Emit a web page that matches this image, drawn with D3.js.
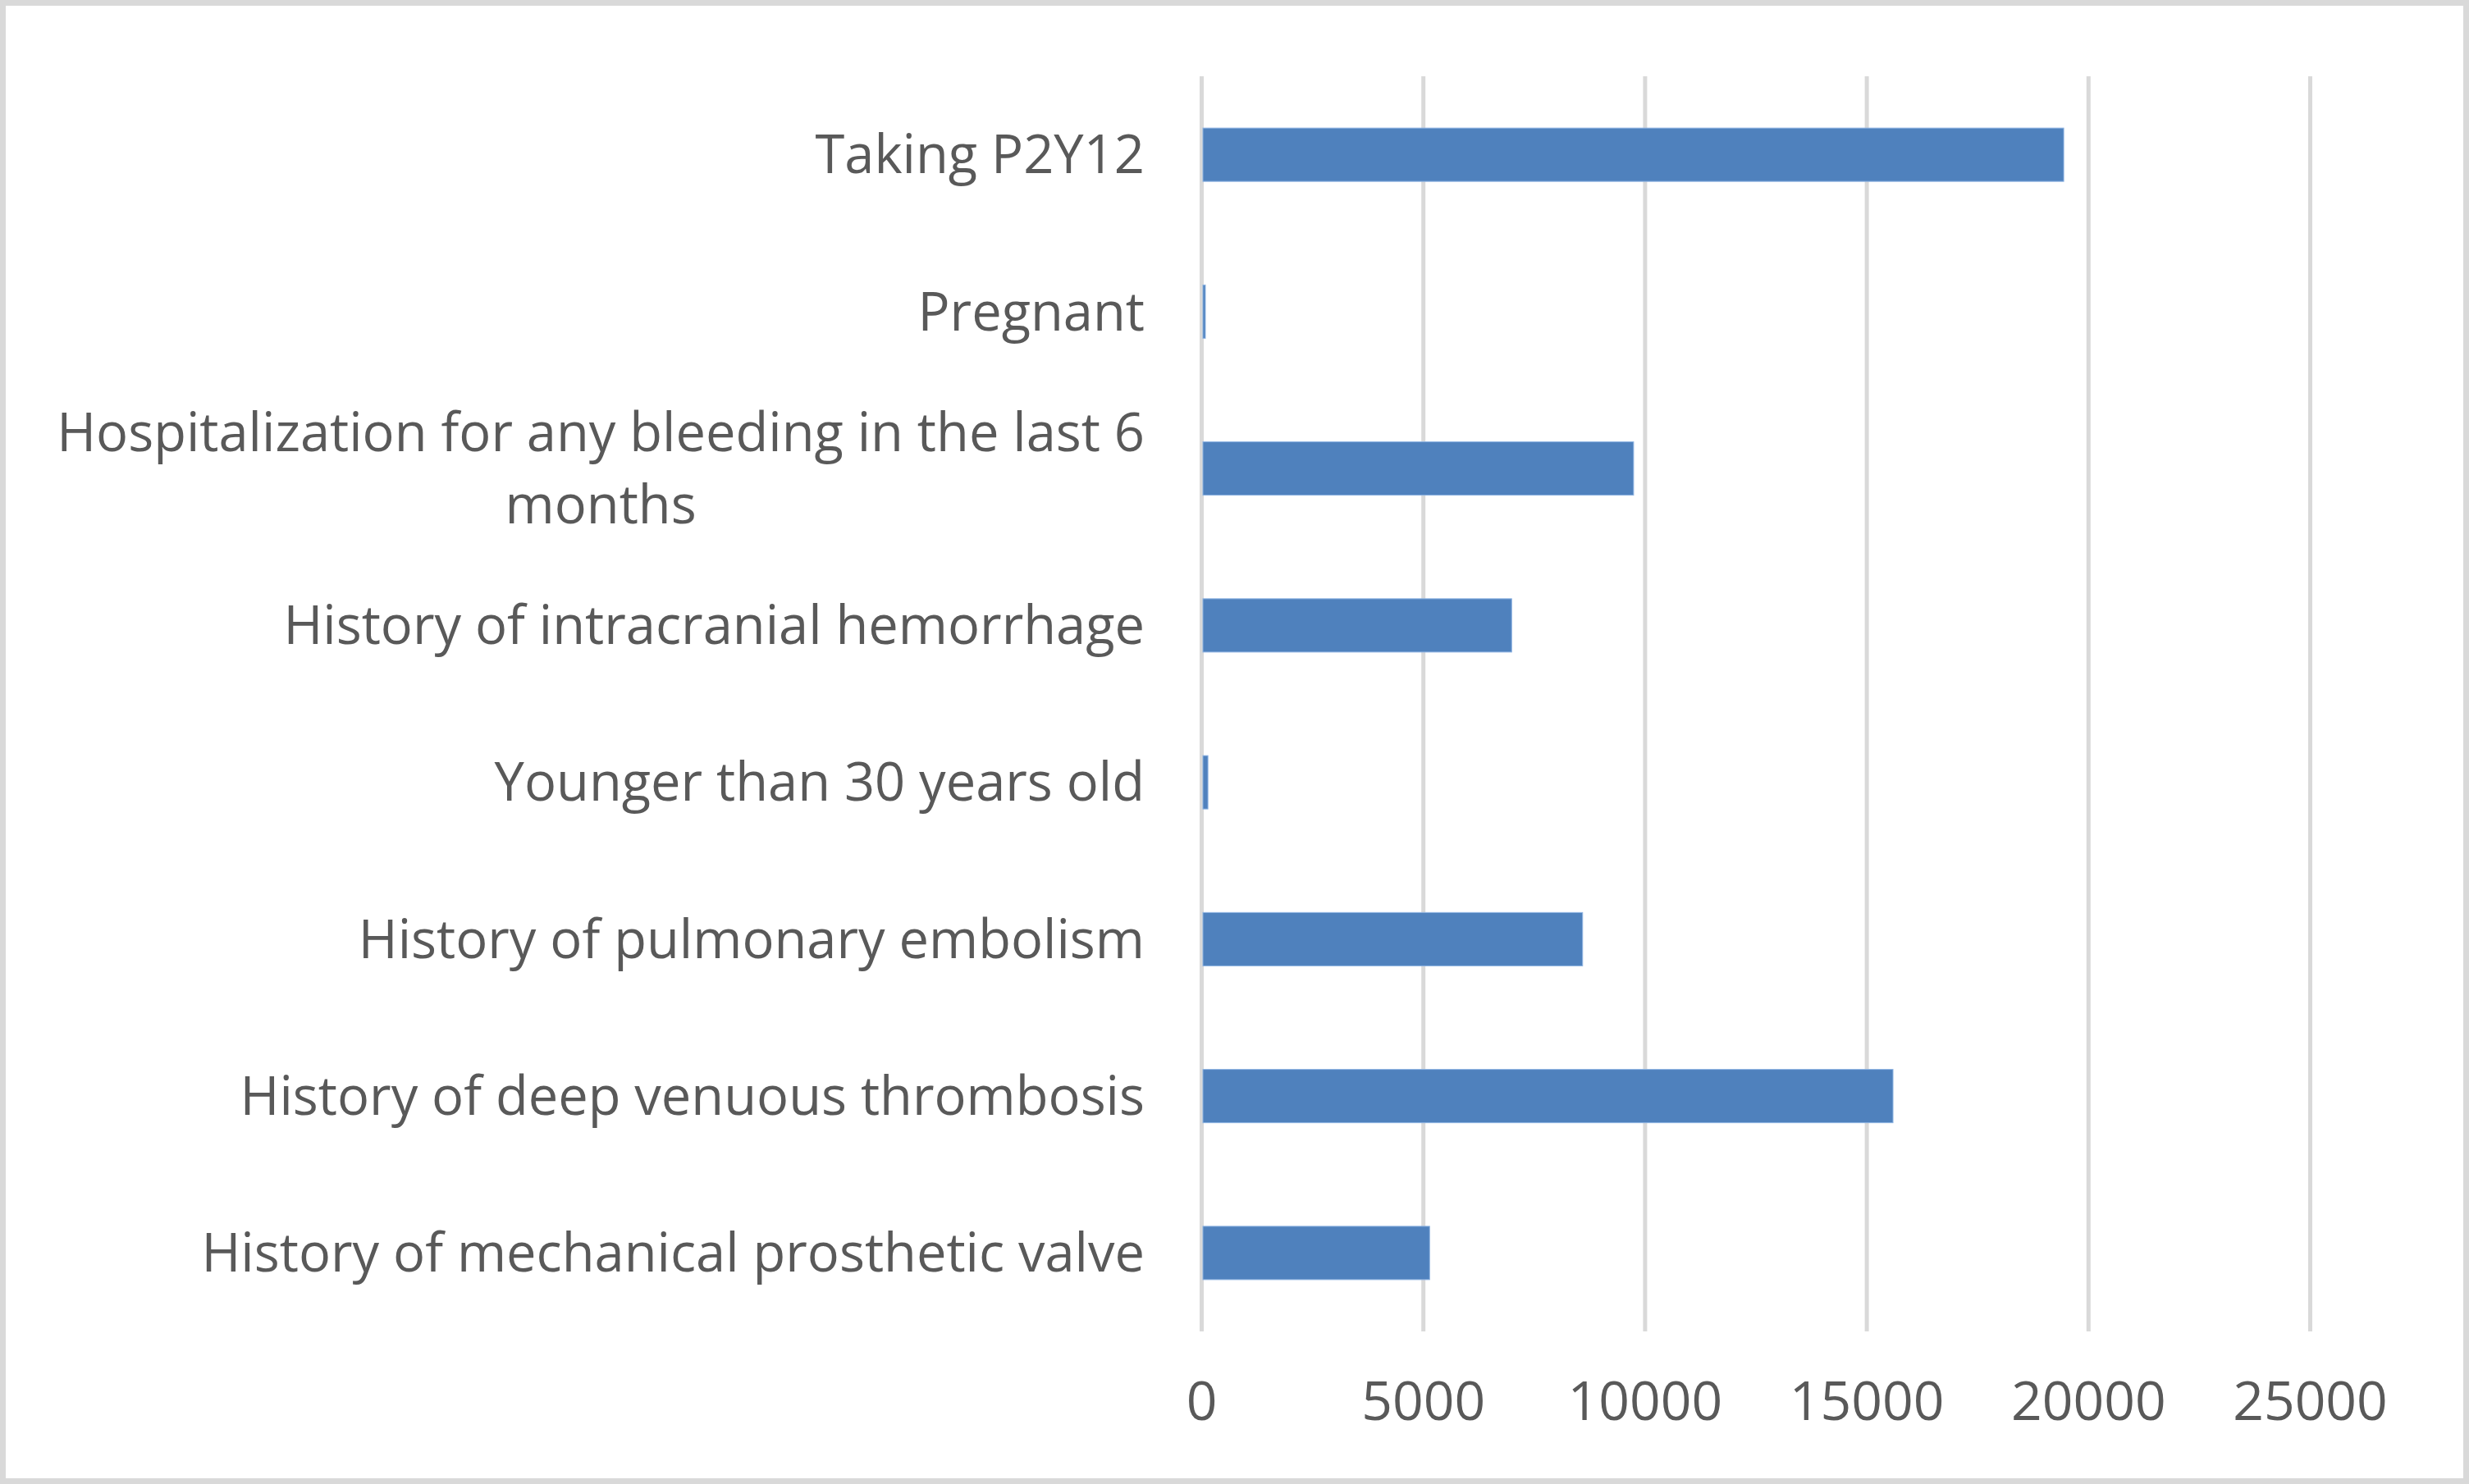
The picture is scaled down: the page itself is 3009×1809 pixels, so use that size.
<!DOCTYPE html>
<html>
<head>
<meta charset="utf-8">
<script src="https://cdn.jsdelivr.net/npm/d3@7"></script>
<style>
  html, body { margin: 0; padding: 0; background: #fff; }
  svg text { font-family: "Open Sans", "Noto Sans", sans-serif; fill: #595959; }
</style>
</head>
<body>
<div class="chart"></div>
<script>

// categories, top to bottom
var categories = [
  "Taking P2Y12",
  "Pregnant",
  "Hospitalization for any bleeding in the last 6 months",
  "History of intracranial hemorrhage",
  "Younger than 30 years old",
  "History of pulmonary embolism",
  "History of deep venuous thrombosis",
  "History of mechanical prosthetic valve"
];

var counts = [19450, 80, 9750, 7000, 150, 8600, 15600, 5150];

var xTicks = [0, 5000, 10000, 15000, 20000, 25000];

var width = 3009,
    height = 1809;

var margin = {top: 93, right: 194, bottom: 186, left: 1464};

var svg = d3.select(".chart").append("svg")
    .attr("width", width)
    .attr("height", height);

// outer frame
svg.append("rect")
    .attr("x", 3.5)
    .attr("y", 3.5)
    .attr("width", width - 7)
    .attr("height", height - 7)
    .attr("fill", "#fff")
    .attr("stroke", "#d9d9d9")
    .attr("stroke-width", 7);

var g = svg.append("g")
    .attr("transform", "translate(" + margin.left + "," + margin.top + ")");

var plotW = width - margin.left - margin.right,
    plotH = height - margin.top - margin.bottom;

var x = d3.scaleLinear()
    .domain([0, 25000])
    .range([0, 1351]);

var y = d3.scaleBand()
    .domain(categories)
    .range([0, plotH])
    .paddingInner(0.66)
    .paddingOuter(0.33);

// x axis with gridlines
var xAxis = g.append("g")
    .attr("transform", "translate(0," + plotH + ")")
    .call(d3.axisBottom(x)
      .tickValues(xTicks)
      .tickFormat(d3.format("d"))
      .tickSize(-plotH)
      .tickPadding(61));

xAxis.select(".domain").remove();
xAxis.selectAll(".tick line")
    .attr("stroke", "#d9d9d9")
    .attr("stroke-width", 5);
xAxis.selectAll(".tick text")
    .style("font-size", "66px")
    .attr("fill", "#595959");

// bars
g.selectAll(".bar")
    .data(counts)
  .enter().append("rect")
    .attr("class", "bar")
    .attr("x", x(0) + 2)
    .attr("y", function(d, i) { return y(categories[i]); })
    .attr("width", function(d) { return Math.max(x(d) - x(0) - 2, 3); })
    .attr("height", y.bandwidth())
    .attr("fill", "#4f81bd")
    .attr("stroke", "#8db3e2")
    .attr("stroke-width", 1);

// category labels (wrapped, Excel style)
var labelRight = -69,
    maxLabel = 1420;

var yAxis = g.append("g")
    .call(d3.axisLeft(y).tickSize(0).tickPadding(69));
yAxis.select(".domain").remove();

yAxis.selectAll(".tick text").each(function(label) {
  var text = d3.select(this)
      .style("font-size", "65px")
      .attr("fill", "#595959")
      .attr("dy", null)
      .text(null);

  var words = label.split(" "),
      lines = [],
      line = [];

  var probe = text.append("tspan");
  words.forEach(function(w) {
    line.push(w);
    probe.text(line.join(" "));
    if (probe.node().getComputedTextLength() > maxLabel && line.length > 1) {
      line.pop();
      lines.push(line.join(" "));
      line = [w];
    }
  });
  lines.push(line.join(" "));
  probe.remove();

  var lineH = 88;
  if (lines.length === 1) {
    text.attr("text-anchor", "end")
        .attr("x", labelRight)
        .attr("dy", "0.35em")
        .text(lines[0]);
  } else {
    var widest = 0;
    var spans = lines.map(function(l, k) {
      var s = text.append("tspan").text(l);
      widest = Math.max(widest, s.node().getComputedTextLength());
      return s;
    });
    var cx = labelRight - widest / 2;
    text.attr("text-anchor", "middle").attr("dy", null);
    spans.forEach(function(s, k) {
      s.attr("x", cx)
       .attr("y", (k - (lines.length - 1) / 2) * lineH)
       .attr("dy", "0.35em");
    });
  }
});

</script>
</body>
</html>
